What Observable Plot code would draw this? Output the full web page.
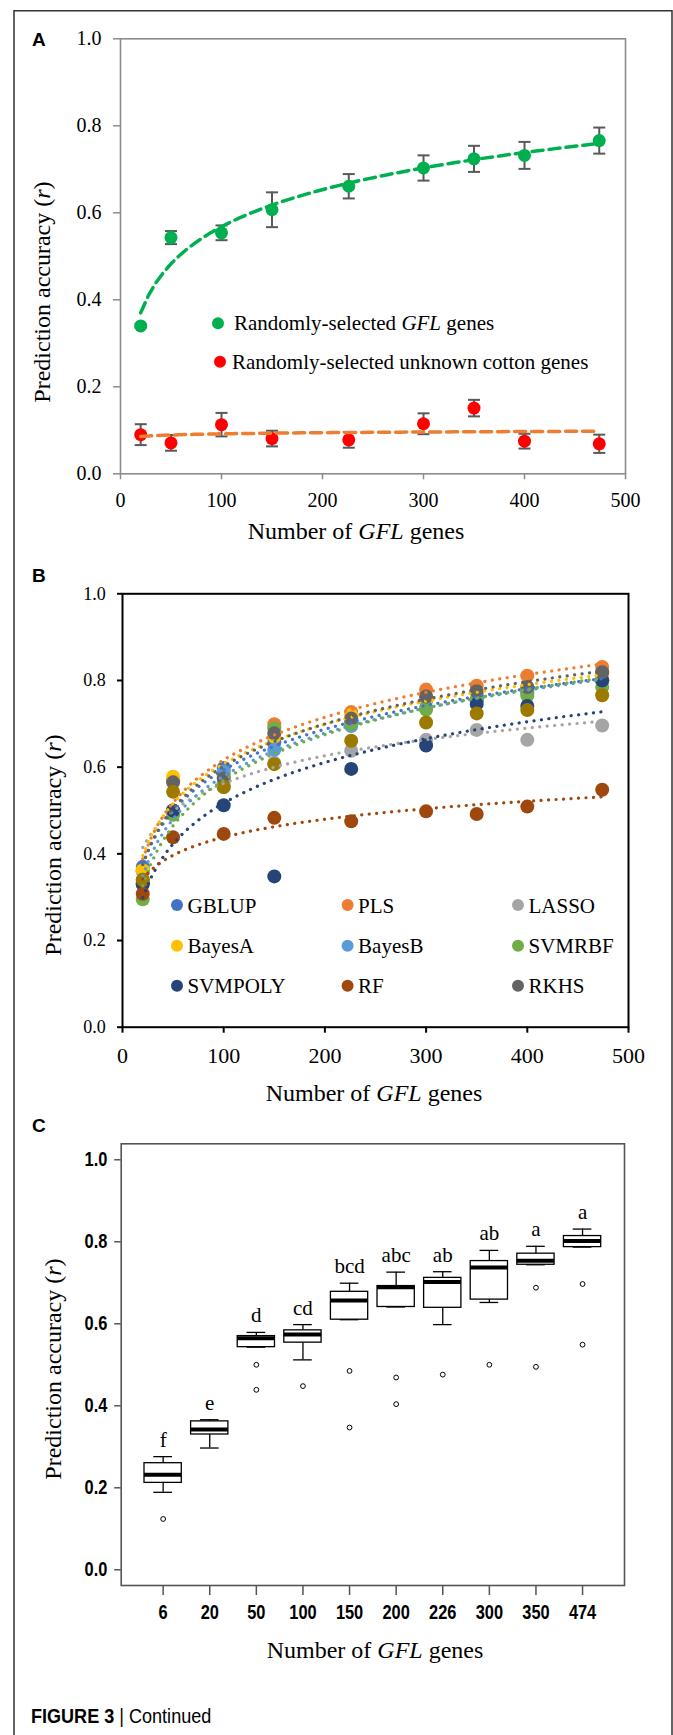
<!DOCTYPE html>
<html><head><meta charset="utf-8">
<script src="https://cdn.jsdelivr.net/npm/d3@7"></script>
<script src="https://cdn.jsdelivr.net/npm/@observablehq/plot@0.6"></script>
<style>
body{margin:0;background:#fff}
#fig{position:relative;width:673px;height:1735px;overflow:hidden;background:#fff}
</style></head><body><div id="fig"></div>
<script>
// ---------- DATA ----------
const xGenes = [20, 50, 100, 150, 226, 300, 350, 400, 474];
// Panel A
const gflAcc = [0.340, 0.543, 0.554, 0.607, 0.661, 0.703, 0.724, 0.732, 0.766];
const gflErr = [0.004, 0.015, 0.017, 0.040, 0.028, 0.029, 0.030, 0.031, 0.030];
const unkAcc = [0.090, 0.071, 0.113, 0.081, 0.078, 0.115, 0.151, 0.075, 0.069];
const unkErr = [0.024, 0.018, 0.027, 0.018, 0.018, 0.024, 0.019, 0.017, 0.021];
const legendA = ["Randomly-selected GFL genes", "Randomly-selected unknown cotton genes"];
// Panel B
const methods = ["GBLUP", "PLS", "LASSO", "BayesA", "BayesB", "SVMRBF", "SVMPOLY", "RF", "RKHS"];
const methodColors = ["#4472C4", "#ED7D31", "#A5A5A5", "#FFC000", "#5B9BD5", "#70AD47", "#264478", "#9E480E", "#636363"];
const accGBLUP   = [0.370, 0.500, 0.598, 0.657, 0.705, 0.753, 0.755, 0.775, 0.800];
const accPLS     = [0.360, 0.570, 0.584, 0.699, 0.727, 0.779, 0.788, 0.811, 0.831];
const accLASSO   = [0.360, 0.570, 0.565, 0.610, 0.638, 0.663, 0.686, 0.663, 0.696];
const accBayesA  = [0.362, 0.578, 0.580, 0.670, 0.720, 0.755, 0.770, 0.780, 0.810];
const accBayesB  = [0.330, 0.500, 0.590, 0.640, 0.695, 0.737, 0.755, 0.770, 0.800];
const accSVMRBF  = [0.295, 0.490, 0.554, 0.690, 0.700, 0.733, 0.755, 0.765, 0.785];
const accSVMPOLY = [0.330, 0.500, 0.512, 0.348, 0.596, 0.650, 0.746, 0.741, 0.800];
const accRF      = [0.308, 0.438, 0.446, 0.483, 0.475, 0.498, 0.492, 0.509, 0.548];
const accRKHS    = [0.340, 0.565, 0.574, 0.678, 0.712, 0.763, 0.775, 0.785, 0.819];
const accGFLavg  = [0.340, 0.543, 0.554, 0.607, 0.661, 0.703, 0.724, 0.732, 0.766];
const gflAvgColor = "#9C7A00";
// Panel C (box plot summaries)
const boxCats    = ["6", "20", "50", "100", "150", "200", "226", "300", "350", "474"];
const boxLow     = [0.189, 0.297, 0.543, 0.512, 0.610, 0.641, 0.598, 0.652, 0.744, 0.787];
const boxQ1      = [0.212, 0.330, 0.543, 0.554, 0.610, 0.641, 0.639, 0.659, 0.744, 0.787];
const boxMedian  = [0.232, 0.342, 0.565, 0.574, 0.657, 0.689, 0.702, 0.737, 0.754, 0.802];
const boxQ3      = [0.260, 0.362, 0.570, 0.584, 0.678, 0.692, 0.712, 0.753, 0.771, 0.814];
const boxHigh    = [0.276, 0.366, 0.579, 0.598, 0.699, 0.726, 0.727, 0.779, 0.789, 0.831];
const boxLetters = ["f", "e", "d", "cd", "bcd", "abc", "ab", "ab", "a", "a"];
const boxOutliers = [[0.124], [], [0.500, 0.439], [0.448], [0.485, 0.347], [0.469, 0.404], [0.476], [0.500], [0.688, 0.495], [0.697, 0.549]];
const yTicks = [0, 0.2, 0.4, 0.6, 0.8, 1.0];
const xTicksAB = [0, 100, 200, 300, 400, 500];

// ---------- helpers ----------
const serif = "'Liberation Serif','Times New Roman',Times,serif";
const sans = "'Liberation Sans',Arial,Helvetica,sans-serif";
const fig = document.getElementById("fig");
function place(el, top) { el.style.position = "absolute"; el.style.left = "0px"; el.style.top = top + "px"; fig.appendChild(el); }
// least-squares logarithmic trend line (y = a ln x + b), like a spreadsheet trendline
function logTrend(xs, ys) {
  const lx = xs.map(Math.log), mx = d3.mean(lx), my = d3.mean(ys);
  const a = d3.sum(lx, (v, i) => (v - mx) * (ys[i] - my)) / d3.sum(lx, v => (v - mx) ** 2);
  const b = my - a * mx;
  const x0 = d3.min(xs), x1 = d3.max(xs);
  return d3.range(61).map(k => { const x = x0 + (x1 - x0) * k / 60; return {x, y: a * Math.log(x) + b}; });
}
const cap = {draw(ctx, size) { const w = Math.sqrt(size / Math.PI); ctx.moveTo(-w, 0); ctx.lineTo(w, 0); }};
// condense text horizontally about its anchor (no narrow font installed)
function condense(root, selector, k) {
  root.querySelectorAll(selector).forEach(el => {
    const t = el.getAttribute("transform") || "";
    el.setAttribute("transform", t + ` scale(${k},1)`);
  });
}

// ---------- Panel A ----------
const tabGfl = xGenes.map((x, i) => ({x, y: gflAcc[i], lo: gflAcc[i] - gflErr[i], hi: gflAcc[i] + gflErr[i]}));
const tabUnk = xGenes.map((x, i) => ({x, y: unkAcc[i], lo: unkAcc[i] - unkErr[i], hi: unkAcc[i] + unkErr[i]}));
const hA = 545;
const plotA = Plot.plot({
  width: 673, height: hA, marginLeft: 120, marginRight: 48, marginTop: 38.3, marginBottom: hA - 473.3,
  x: {domain: [0, 500]}, y: {domain: [0, 1]},
  style: {fontFamily: serif, background: "transparent", color: "black", overflow: "visible"},
  marks: [
    Plot.frame({stroke: "#8c8c8c", strokeWidth: 1.6}),
    Plot.axisX({ticks: xTicksAB, tickSize: 6, tickPadding: 13, stroke: "#8c8c8c", strokeWidth: 1.5, fill: "black", fontSize: 20, label: null, tickFormat: d => d}),
    Plot.axisY({ticks: yTicks, tickSize: 7, tickPadding: 12, stroke: "#8c8c8c", strokeWidth: 1.5, fill: "black", fontSize: 20, label: null, tickFormat: d3.format(".1f")}),
    Plot.ruleX(tabGfl, {x: "x", y1: "lo", y2: "hi", stroke: "#595959", strokeWidth: 2}),
    Plot.dot(tabGfl, {x: "x", y: "lo", symbol: cap, r: 6, stroke: "#595959", strokeWidth: 2, fill: "none"}),
    Plot.dot(tabGfl, {x: "x", y: "hi", symbol: cap, r: 6, stroke: "#595959", strokeWidth: 2, fill: "none"}),
    Plot.ruleX(tabUnk, {x: "x", y1: "lo", y2: "hi", stroke: "#595959", strokeWidth: 2}),
    Plot.dot(tabUnk, {x: "x", y: "lo", symbol: cap, r: 6, stroke: "#595959", strokeWidth: 2, fill: "none"}),
    Plot.dot(tabUnk, {x: "x", y: "hi", symbol: cap, r: 6, stroke: "#595959", strokeWidth: 2, fill: "none"}),
    Plot.dot(tabGfl, {x: "x", y: "y", r: 6.5, fill: "#00B050"}),
    Plot.dot(tabUnk, {x: "x", y: "y", r: 6.5, fill: "#FF0000"}),
    Plot.line(logTrend(xGenes, gflAcc), {x: "x", y: "y", stroke: "#00B050", strokeWidth: 3.5, strokeDasharray: "11,6"}),
    Plot.line(logTrend(xGenes, unkAcc), {x: "x", y: "y", stroke: "#ED7D31", strokeWidth: 3.5, strokeDasharray: "11,6"})
  ]
});
place(plotA, 0);

// ---------- Panel B ----------
const accByMethod = [accGBLUP, accPLS, accLASSO, accBayesA, accBayesB, accSVMRBF, accSVMPOLY, accRF, accRKHS];
const topB = 545, hB = 560;
const marksB = [
  Plot.frame({stroke: "black", strokeWidth: 2}),
  Plot.axisX({ticks: xTicksAB, tickSize: 6, tickPadding: 14, stroke: "black", strokeWidth: 2, fill: "black", fontSize: 22, label: null, tickFormat: d => d}),
  Plot.axisY({ticks: yTicks, tickSize: 5, tickPadding: 11.7, stroke: "black", strokeWidth: 2, fill: "black", fontSize: 18, label: null, tickFormat: d3.format(".1f")})
];
accByMethod.forEach((vals, j) => {
  marksB.push(Plot.dot(xGenes.map((x, i) => ({x, y: vals[i]})), {x: "x", y: "y", r: 7, fill: methodColors[j]}));
});
marksB.push(Plot.dot(xGenes.map((x, i) => ({x, y: accGFLavg[i]})), {x: "x", y: "y", r: 7, fill: gflAvgColor}));
accByMethod.forEach((vals, j) => {
  marksB.push(Plot.line(logTrend(xGenes, vals), {x: "x", y: "y", stroke: methodColors[j], strokeWidth: 3.2, strokeDasharray: "0.1,7.4", strokeLinecap: "round"}));
});
const plotB = Plot.plot({
  width: 673, height: hB, marginLeft: 122, marginRight: 45, marginTop: 593.3 - topB, marginBottom: hB - (1026.7 - topB),
  x: {domain: [0, 500]}, y: {domain: [0, 1]},
  style: {fontFamily: serif, background: "transparent", color: "black", overflow: "visible"},
  marks: marksB
});
place(plotB, topB);

// ---------- Panel C ----------
const tabBox = boxCats.map((c, i) => ({i: i + 1, lo: boxLow[i], q1: boxQ1[i], med: boxMedian[i], q3: boxQ3[i], hi: boxHigh[i], letter: boxLetters[i]}));
const tabOut = boxOutliers.flatMap((vs, i) => vs.map(v => ({i: i + 1, v})));
const topC = 1105, hC = 520;
const plotC = Plot.plot({
  width: 673, height: hC, marginLeft: 120.7, marginRight: 49, marginTop: 1143.3 - topC, marginBottom: hC - (1585 - topC),
  x: {type: "linear", domain: [0.1, 10.9]}, y: {domain: [-0.0383, 1.039]},
  style: {fontFamily: sans, background: "transparent", color: "black", overflow: "visible"},
  marks: [
    Plot.frame({stroke: "#555", strokeWidth: 1.6}),
    Plot.axisX({ticks: d3.range(1, 11), tickSize: 10, tickPadding: 8.5, stroke: "#555", strokeWidth: 1.5, fill: "black", fontSize: 20.5, fontWeight: "bold", label: null, tickFormat: i => boxCats[i - 1]}),
    Plot.axisY({ticks: yTicks, tickSize: 6.5, tickPadding: 7.3, stroke: "#555", strokeWidth: 1.5, fill: "black", fontSize: 20.5, fontWeight: "bold", label: null, tickFormat: d3.format(".1f")}),
    Plot.ruleX(tabBox, {x: "i", y1: "q3", y2: "hi", stroke: "black", strokeWidth: 1.3}),
    Plot.ruleX(tabBox, {x: "i", y1: "lo", y2: "q1", stroke: "black", strokeWidth: 1.3}),
    Plot.ruleY(tabBox, {x1: d => d.i - 0.2, x2: d => d.i + 0.2, y: "hi", stroke: "black", strokeWidth: 1.3}),
    Plot.ruleY(tabBox, {x1: d => d.i - 0.2, x2: d => d.i + 0.2, y: "lo", stroke: "black", strokeWidth: 1.3}),
    Plot.rect(tabBox, {x1: d => d.i - 0.4, x2: d => d.i + 0.4, y1: "q1", y2: "q3", fill: "white", stroke: "black", strokeWidth: 1.3}),
    Plot.ruleY(tabBox, {x1: d => d.i - 0.4, x2: d => d.i + 0.4, y: "med", stroke: "black", strokeWidth: 4}),
    Plot.dot(tabOut, {x: "i", y: "v", r: 2.4, stroke: "black", strokeWidth: 1, fill: "none"}),
    Plot.text(tabBox, {x: "i", y: "hi", text: "letter", dy: -10, lineAnchor: "bottom", fontFamily: serif, fontWeight: "normal", fontSize: 21, fill: "black"})
  ]
});
place(plotC, topC);
condense(plotC, 'g[aria-label="x-axis tick label"] text, g[aria-label="y-axis tick label"] text', 0.8);

// ---------- Annotations (panel letters, axis titles, legends, caption) ----------
const svg = d3.create("svg").attr("width", 673).attr("height", 1735)
  .style("position", "absolute").style("left", "0px").style("top", "0px").style("pointer-events", "none");
// outer figure frame
svg.append("path").attr("d", "M14,1740 V10.7 H672 V1740").attr("fill", "none").attr("stroke", "#333").attr("stroke-width", 1.5);
// panel letters
[["A", 45.7], ["B", 581.7], ["C", 1131.7]].forEach(([t, y]) =>
  svg.append("text").attr("x", 32).attr("y", y).attr("font-family", sans).attr("font-weight", "bold").attr("font-size", 19).text(t));
// axis titles
function xTitle(cx, y) {
  const t = svg.append("text").attr("x", cx).attr("y", y).attr("text-anchor", "middle").attr("font-family", serif).attr("font-size", 24);
  t.append("tspan").text("Number of ");
  t.append("tspan").attr("font-style", "italic").text("GFL");
  t.append("tspan").text(" genes");
}
function yTitle(x, cy) {
  const t = svg.append("text").attr("transform", `translate(${x},${cy}) rotate(-90)`).attr("text-anchor", "middle").attr("font-family", serif).attr("font-size", 24);
  t.append("tspan").text("Prediction accuracy (");
  t.append("tspan").attr("font-style", "italic").text("r");
  t.append("tspan").text(")");
}
xTitle(356, 539); xTitle(374, 1101); xTitle(375, 1657.7);
yTitle(50, 292); yTitle(61, 845); yTitle(61, 1369);
// legend A
const lgA = svg.append("g").attr("font-family", serif).attr("font-size", 21);
lgA.append("circle").attr("cx", 218).attr("cy", 323.3).attr("r", 6).attr("fill", "#00B050");
const tA = lgA.append("text").attr("x", 234).attr("y", 330);
tA.append("tspan").text("Randomly-selected ");
tA.append("tspan").attr("font-style", "italic").text("GFL");
tA.append("tspan").text(" genes");
lgA.append("circle").attr("cx", 220).attr("cy", 361.7).attr("r", 6).attr("fill", "#FF0000");
lgA.append("text").attr("x", 232).attr("y", 368.5).text(legendA[1]);
// legend B
const lgB = svg.append("g").attr("font-family", serif).attr("font-size", 21);
const colX = [177, 347.6, 518], rowY = [905, 945.7, 985.7];
methods.forEach((m, j) => {
  const cx = colX[j % 3], cy = rowY[Math.floor(j / 3)];
  lgB.append("circle").attr("cx", cx).attr("cy", cy).attr("r", 6).attr("fill", methodColors[j]);
  lgB.append("text").attr("x", cx + 10.5).attr("y", cy + 7.5).text(m);
});
// caption
const cap3 = svg.append("text").attr("transform", "translate(31,1723) scale(0.86,1)").attr("font-family", sans).attr("font-size", 21);
cap3.append("tspan").attr("font-weight", "bold").text("FIGURE 3 ");
cap3.append("tspan").text("| Continued");
fig.appendChild(svg.node());
</script></body></html>
